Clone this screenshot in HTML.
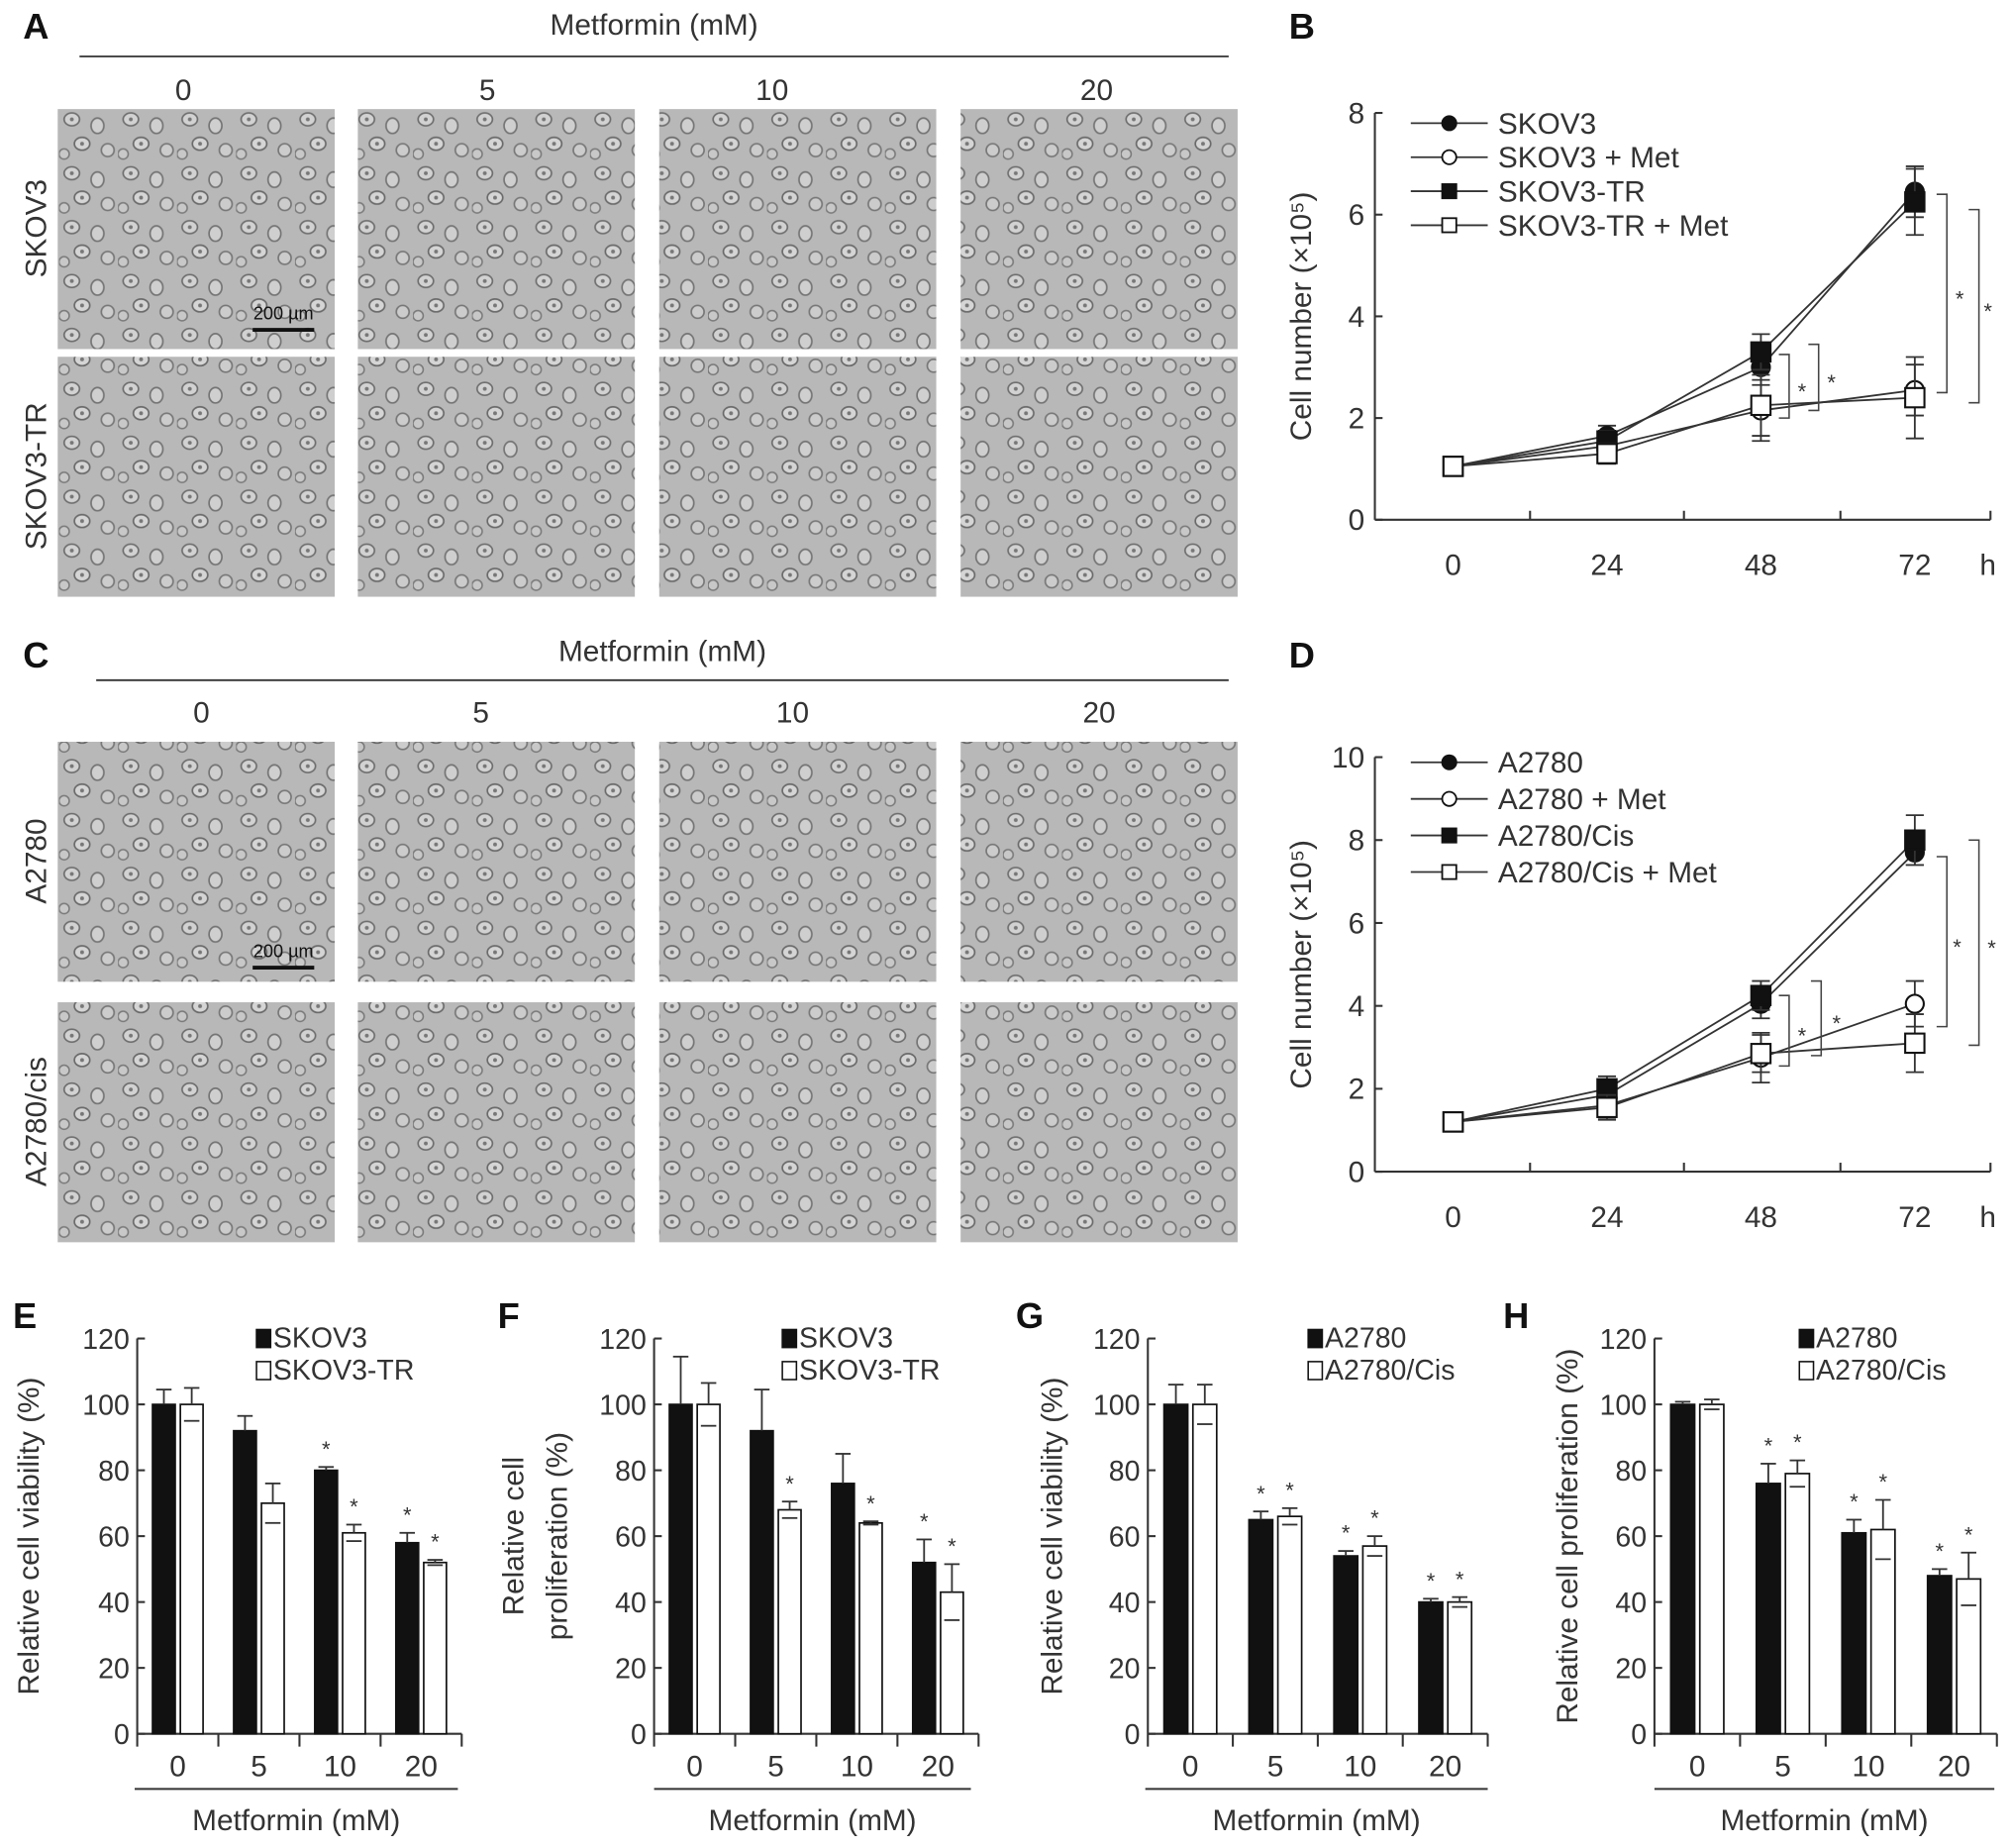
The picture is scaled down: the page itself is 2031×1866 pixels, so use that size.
<!DOCTYPE html>
<html><head><meta charset="utf-8"><style>
html,body{margin:0;padding:0;background:#fff}
svg{display:block}
text{font-family:"Liberation Sans",sans-serif;fill:#333}
</style></head><body>
<svg id="fig" width="2031" height="1866" viewBox="0 0 1568 1440" preserveAspectRatio="none" xmlns="http://www.w3.org/2000/svg">
<defs>
<pattern id="cells" width="46" height="42" patternUnits="userSpaceOnUse">
<rect width="46" height="42" fill="#b8b8b8"/>
<ellipse cx="10" cy="9" rx="6" ry="5" fill="#d2d2d2" stroke="#6e6e6e" stroke-width="1.3"/>
<ellipse cx="30" cy="14" rx="5" ry="6" fill="#cfcfcf" stroke="#747474" stroke-width="1.3"/>
<ellipse cx="18" cy="28" rx="6" ry="5" fill="#d5d5d5" stroke="#6a6a6a" stroke-width="1.3"/>
<ellipse cx="38" cy="33" rx="5" ry="5" fill="#cccccc" stroke="#777" stroke-width="1.3"/>
<ellipse cx="4" cy="36" rx="4" ry="4" fill="#c8c8c8" stroke="#7a7a7a" stroke-width="1.2"/>
<circle cx="10" cy="9" r="1.5" fill="#777"/><circle cx="18" cy="28" r="1.5" fill="#777"/>
</pattern>
</defs>
<g id="micro"></g>
<g id="charts"></g>
</svg>
<script>
// ---------- data ----------
const timeCats = [0, 24, 48, 72];
const bYTicks = [0, 2, 4, 6, 8];
const bSeriesNames = ["SKOV3", "SKOV3 + Met", "SKOV3-TR", "SKOV3-TR + Met"];
const bSkov3 = [1.05, 1.65, 3.0, 6.45];
const bSkov3Met = [1.05, 1.45, 2.15, 2.55];
const bSkov3TR = [1.05, 1.55, 3.3, 6.25];
const bSkov3TRMet = [1.05, 1.3, 2.25, 2.4];
const bErrSkov3 = [0.05, 0.2, 0.35, 0.5];
const bErrSkov3Met = [0.05, 0.15, 0.6, 0.5];
const bErrSkov3TR = [0.05, 0.2, 0.35, 0.65];
const bErrSkov3TRMet = [0.05, 0.2, 0.6, 0.8];

const dYTicks = [0, 2, 4, 6, 8, 10];
const dSeriesNames = ["A2780", "A2780 + Met", "A2780/Cis", "A2780/Cis + Met"];
const dA2780 = [1.2, 1.85, 4.05, 7.7];
const dA2780Met = [1.2, 1.6, 2.75, 4.05];
const dCis = [1.2, 2.0, 4.25, 8.0];
const dCisMet = [1.2, 1.55, 2.85, 3.1];
const dErrA2780 = [0.05, 0.3, 0.35, 0.3];
const dErrA2780Met = [0.05, 0.3, 0.6, 0.55];
const dErrCis = [0.05, 0.3, 0.35, 0.6];
const dErrCisMet = [0.05, 0.3, 0.45, 0.7];

const doseCats = ["0", "5", "10", "20"];
const barYTicks = [0, 20, 40, 60, 80, 100, 120];
const eSkov3 = [100, 92, 80, 58];
const eSkov3Err = [4.5, 4.5, 1, 3];
const eTR = [100, 70, 61, 52];
const eTRErr = [5, 6, 2.5, 0.8];
const eStars = [[0,0],[0,0],[1,1],[1,1]];
const fSkov3 = [100, 92, 76, 52];
const fSkov3Err = [14.5, 12.5, 9, 7];
const fTR = [100, 68, 64, 43];
const fTRErr = [6.5, 2.5, 0.5, 8.5];
const fStars = [[0,0],[0,1],[0,1],[1,1]];
const gA2780 = [100, 65, 54, 40];
const gA2780Err = [6, 2.5, 1.5, 1];
const gCis = [100, 66, 57, 40];
const gCisErr = [6, 2.5, 3, 1.5];
const gStars = [[0,0],[1,1],[1,1],[1,1]];
const hA2780 = [100, 76, 61, 48];
const hA2780Err = [0.8, 6, 4, 2];
const hCis = [100, 79, 62, 47];
const hCisErr = [1.5, 4, 9, 8];
const hStars = [[0,0],[1,1],[1,1],[1,1]];

// ---------- helpers ----------
const NS = "http://www.w3.org/2000/svg";
const root = document.getElementById('charts');
function mk(tag, attrs, parent, txt){
  const e = document.createElementNS(NS, tag);
  for (const k in attrs) e.setAttribute(k, attrs[k]);
  if (txt !== undefined) e.textContent = txt;
  (parent || root).appendChild(e);
  return e;
}
function grp(name, parent){
  const g = mk('g', {}, parent);
  
  
  return g;
}
function txt(g, x, y, s, size, anchor, extra){
  const t = mk('text', Object.assign({x:x, y:y, 'font-size':size, 'text-anchor':anchor||'middle'}, extra||{}), g, s);
  
  
  return t;
}
function ln(g, x1, y1, x2, y2, w, c){
  return mk('line', {x1:x1, y1:y1, x2:x2, y2:y2, stroke:c||'#333', 'stroke-width':w||1.6}, g);
}

// ---------- panel letters ----------
const letters = grp('panel-letters');
[["A",18,30],["B",1005,30],["C",18,520],["D",1005,520],["E",10,1035],["F",388,1035],["G",792,1035],["H",1172,1035]].forEach(l=>{
  txt(letters, l[1], l[2], l[0], 28, 'start', {'font-weight':'bold', style:'fill:#111'});
});

// ---------- micrographs ----------
const micro = document.getElementById('micro');
function microBlock(name, titleY, lineX1, lineY, colLabelY, colXs, rowYs, rowLabels, scaleY){
  const g = grp(name, micro);
  txt(g, (lineX1+958)/2, titleY, 'Metformin (mM)', 23);
  ln(g, lineX1, lineY, 958, lineY, 1.4);
  const doseLabels = ['0','5','10','20'];
  const colLeft = [45, 279, 514, 749];
  colXs.forEach((x,i)=>txt(g, x, colLabelY, doseLabels[i], 23));
  rowYs.forEach((ry,r)=>{
    colLeft.forEach((cx,c)=>{
      const rect = mk('rect', {x:cx, y:ry, width:216, height:187, fill:'url(#cells)'}, g);
      
      
    });
    const t = txt(g, 0, 0, rowLabels[r], 23, 'middle', {transform:'translate(36,'+(ry+93)+') rotate(-90)'});
  });
  ln(g, 197, scaleY, 245, scaleY, 3, '#111');
  txt(g, 221, scaleY-8, '200 µm', 14, 'middle', {style:'fill:#111'});
}
microBlock('panel-a', 27, 62, 44, 78, [143,380,602,855], [85,278], ['SKOV3','SKOV3-TR'], 257);
microBlock('panel-c', 515, 75, 530, 563, [157,375,618,857], [578,781], ['A2780','A2780/cis'], 754);

// ---------- line charts ----------
function lineChart(name, y0, yTop, yMax, yTicks, series, errs, names, legendY, legendDy, brackets){
  const g = grp(name);
  const x0 = 1072, xEnd = 1552;
  const xs = v => 1133 + (v/24)*120;
  const ys = v => y0 - (v/yMax)*(y0-yTop);
  ln(g, x0, yTop, x0, y0); ln(g, x0, y0, xEnd, y0);
  yTicks.forEach(t=>{ ln(g, x0, ys(t), x0+6, ys(t)); txt(g, x0-8, ys(t)+8, String(t), 23, 'end'); });
  [1193, 1313, 1435, xEnd].forEach(x=>ln(g, x, y0, x, y0-7));
  timeCats.forEach(c=>txt(g, xs(c), y0+43, String(c), 23));
  txt(g, xEnd-2, y0+43, 'h', 23);
  const mid = (y0+yTop)/2;
  txt(g, 0, 0, 'Cell number (×10⁵)', 23, 'middle', {transform:'translate(1022,'+mid+') rotate(-90)'});
  const styles = [['c',true],['c',false],['s',true],['s',false]];
  series.forEach((s,i)=>{
    const sg = grp('series-'+names[i].toLowerCase().replace(/[^a-z0-9]+/g,'-'), g);
    const pts = s.map((v,j)=>xs(timeCats[j])+','+ys(v)).join(' ');
    mk('polyline', {points:pts, fill:'none', stroke:'#333', 'stroke-width':1.4}, sg);
    s.forEach((v,j)=>{
      const x = xs(timeCats[j]), y = ys(v), e = errs[i][j];
      ln(sg, x, ys(v-e), x, ys(v+e), 1.4);
      ln(sg, x-7, ys(v+e), x+7, ys(v+e), 1.4); ln(sg, x-7, ys(v-e), x+7, ys(v-e), 1.4);
      let m;
      if (styles[i][0]==='c') m = mk('circle', {cx:x, cy:y, r:7, fill:styles[i][1]?'#111':'#fff', stroke:'#111', 'stroke-width':1.6}, sg);
      else m = mk('rect', {x:x-7.5, y:y-7.5, width:15, height:15, fill:styles[i][1]?'#111':'#fff', stroke:'#111', 'stroke-width':1.6}, sg);
      
      
    });
  });
  const lg = grp('legend', g);
  names.forEach((n,i)=>{
    const y = legendY + i*legendDy;
    ln(lg, 1100, y, 1160, y, 1.4);
    if (styles[i][0]==='c') mk('circle', {cx:1130, cy:y, r:5.5, fill:styles[i][1]?'#111':'#fff', stroke:'#111', 'stroke-width':1.4}, lg);
    else mk('rect', {x:1124.5, y:y-5.5, width:11, height:11, fill:styles[i][1]?'#111':'#fff', stroke:'#111', 'stroke-width':1.4}, lg);
    txt(lg, 1168, y+8, n, 23, 'start');
  });
  const bg = grp('significance-brackets', g);
  brackets.forEach(b=>{
    const [x, lo, hi, sx] = b;
    mk('polyline', {points:(x-8)+','+ys(hi)+' '+x+','+ys(hi)+' '+x+','+ys(lo)+' '+(x-8)+','+ys(lo), fill:'none', stroke:'#444', 'stroke-width':1.2}, bg);
    txt(bg, sx, (ys(hi)+ys(lo))/2+10, '*', 17);
  });
}
lineChart('panel-b-growth-chart', 405, 88, 8, bYTicks, [bSkov3,bSkov3Met,bSkov3TR,bSkov3TRMet],
  [bErrSkov3,bErrSkov3Met,bErrSkov3TR,bErrSkov3TRMet], bSeriesNames, 96, 26.5,
  [[1395, 2.0, 3.25, 1405],[1418, 2.15, 3.45, 1428],[1518, 2.5, 6.4, 1528],[1543, 2.3, 6.1, 1550]]);
lineChart('panel-d-growth-chart', 913, 590, 10, dYTicks, [dA2780,dA2780Met,dCis,dCisMet],
  [dErrA2780,dErrA2780Met,dErrCis,dErrCisMet], dSeriesNames, 594, 28.5,
  [[1395, 2.55, 4.25, 1405],[1420, 2.8, 4.6, 1432],[1518, 3.5, 7.6, 1526],[1543, 3.05, 8.0, 1553]]);

// ---------- bar charts ----------
function barChart(name, ax, axEnd, cats, blackV, blackE, whiteV, whiteE, stars, legendX, legendNames, yLabelLines, yLabelX, ulX1, ulX2){
  const g = grp(name);
  const y0 = 1351, yTop = 1043;
  const ys = v => y0 - (v/120)*(y0-yTop);
  ln(g, ax, yTop, ax, y0+10); ln(g, ax, y0, axEnd, y0);
  barYTicks.forEach(t=>{ ln(g, ax, ys(t), ax+6, ys(t)); txt(g, ax-6, ys(t)+8, String(t), 22, 'end'); });
  const step = (axEnd-ax)/4;
  for (let i=1;i<=4;i++) ln(g, ax+i*step, y0, ax+i*step, y0+10);
  doseCats.forEach((c,i)=>{
    const cx = ax + step*(i+0.5);
    txt(g, cx, y0+33, c, 23);
    const bw = step*0.28;
    const xb = cx - bw - 2, xw = cx + 2;
    [[xb, blackV[i], blackE[i], '#111', 'bar-black-'+c, stars[i][0]],[xw, whiteV[i], whiteE[i], '#fff', 'bar-white-'+c, stars[i][1]]].forEach(b=>{
      const r = mk('rect', {x:b[0], y:ys(b[1]), width:bw, height:y0-ys(b[1]), fill:b[3], stroke:'#111', 'stroke-width':1.3}, g);
      
      
      const mx = b[0]+bw/2;
      ln(g, mx, ys(b[1]), mx, ys(b[1]+b[2]), 1.4);
      ln(g, mx-6, ys(b[1]+b[2]), mx+6, ys(b[1]+b[2]), 1.4);
      if (b[3]==='#fff') ln(g, mx-6, ys(b[1]-b[2]), mx+6, ys(b[1]-b[2]), 1.4);
      if (b[5]) txt(g, mx, ys(b[1]+b[2])-8, '*', 17);
    });
  });
  ln(g, ulX1, y0+43, ulX2, y0+43, 1.6);
  txt(g, (ulX1+ulX2)/2, y0+75, 'Metformin (mM)', 23);
  const lg = grp('legend', g);
  legendNames.forEach((n,i)=>{
    const y = 1044 + i*25;
    mk('rect', {x:legendX, y:y-8, width:11, height:14, fill:i?'#fff':'#111', stroke:'#111', 'stroke-width':1.2}, lg);
    txt(lg, legendX+13, y+6, n, 22, 'start');
  });
  const mid = (y0+yTop)/2;
  yLabelLines.forEach((l,i)=>txt(g, 0, 0, l, 23, 'middle', {transform:'translate('+(yLabelX+i*34)+','+mid+') rotate(-90)'}));
}
barChart('panel-e-viability-chart', 107, 360, doseCats, eSkov3, eSkov3Err, eTR, eTRErr, eStars, 200, ['SKOV3','SKOV3-TR'], ['Relative cell viability (%)'], 30, 105, 357);
barChart('panel-f-proliferation-chart', 510, 763, doseCats, fSkov3, fSkov3Err, fTR, fTRErr, fStars, 610, ['SKOV3','SKOV3-TR'], ['Relative cell','proliferation (%)'], 408, 510, 757);
barChart('panel-g-viability-chart', 895, 1160, doseCats, gA2780, gA2780Err, gCis, gCisErr, gStars, 1020, ['A2780','A2780/Cis'], ['Relative cell viability (%)'], 828, 893, 1160);
barChart('panel-h-proliferation-chart', 1290, 1557, doseCats, hA2780, hA2780Err, hCis, hCisErr, hStars, 1403, ['A2780','A2780/Cis'], ['Relative cell proliferation (%)'], 1230, 1290, 1555);
</script>
</body></html>
